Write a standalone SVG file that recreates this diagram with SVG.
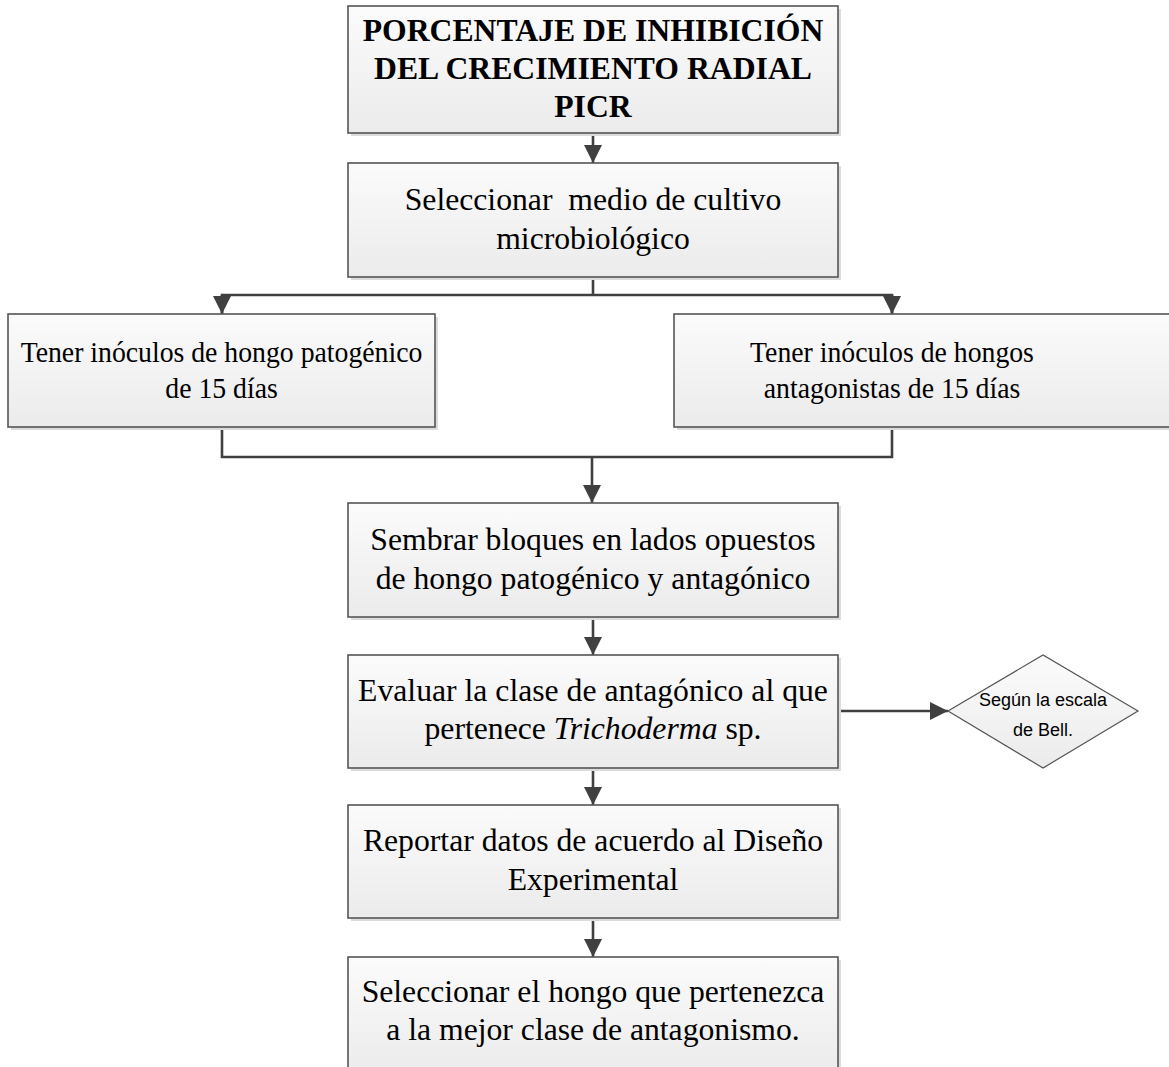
<svg xmlns="http://www.w3.org/2000/svg" width="1169" height="1067" viewBox="0 0 1169 1067">
<defs>
<linearGradient id="boxFill" x1="0" y1="0" x2="0" y2="1">
<stop offset="0" stop-color="#fbfbfb"/>
<stop offset="1" stop-color="#ebebeb"/>
</linearGradient>
<marker id="arr" markerUnits="userSpaceOnUse" markerWidth="18" markerHeight="18" refX="18" refY="9" orient="auto">
<path d="M0,0 L18,9 L0,18 z" fill="#404040"/>
</marker>
<style>
.shadow{fill:#dcdcdc;}
.box{fill:url(#boxFill);stroke:#555;stroke-width:1.6;}
.t{font-family:"Liberation Serif","Times New Roman",serif;font-size:31.7px;fill:#000;text-anchor:middle;}
.ts2{font-family:"Liberation Serif","Times New Roman",serif;font-size:30.5px;fill:#000;text-anchor:middle;}
.tb{font-family:"Liberation Serif","Times New Roman",serif;font-size:31.7px;font-weight:bold;fill:#000;text-anchor:middle;}
.ts{font-family:"Liberation Sans",Arial,sans-serif;font-size:18px;fill:#000;text-anchor:middle;}
.c{fill:none;stroke:#404040;stroke-width:2.6;}
</style>
</defs>
<rect width="1169" height="1067" fill="#fff"/>

<g id="connectors">
<line class="c" x1="593" y1="133" x2="593" y2="163" marker-end="url(#arr)"/>
<polyline class="c" points="593,277 593,295"/>
<polyline class="c" points="222,314 222,295 892,295 892,314"/>
<line class="c" x1="222" y1="295" x2="222" y2="314" marker-end="url(#arr)"/>
<line class="c" x1="892" y1="295" x2="892" y2="314" marker-end="url(#arr)"/>
<polyline class="c" points="222,427 222,457 892,457 892,427"/>
<line class="c" x1="592" y1="457" x2="592" y2="503" marker-end="url(#arr)"/>
<line class="c" x1="593" y1="617" x2="593" y2="655" marker-end="url(#arr)"/>
<line class="c" x1="838" y1="711" x2="948" y2="711" marker-end="url(#arr)"/>
<line class="c" x1="593" y1="768" x2="593" y2="805" marker-end="url(#arr)"/>
<line class="c" x1="593" y1="918" x2="593" y2="957" marker-end="url(#arr)"/>
</g>

<g id="n1">
<rect class="shadow" x="351" y="9" width="490" height="127"/>
<rect class="box" x="348" y="6" width="490" height="127"/>
<text class="tb" x="593" y="41">PORCENTAJE DE INHIBICIÓN</text>
<text class="tb" x="593" y="79">DEL CRECIMIENTO RADIAL</text>
<text class="tb" x="593" y="117">PICR</text>
</g>

<g id="n2">
<rect class="shadow" x="351" y="166" width="490" height="114"/>
<rect class="box" x="348" y="163" width="490" height="114"/>
<text class="t" x="593" y="210" xml:space="preserve">Seleccionar  medio de cultivo</text>
<text class="t" x="593" y="248.5">microbiológico</text>
</g>

<g id="n3">
<rect class="shadow" x="11" y="317" width="427" height="113"/>
<rect class="box" x="8" y="314" width="427" height="113"/>
<text class="ts2" transform="translate(221.5,362) scale(0.91,1)">Tener inóculos de hongo patogénico</text>
<text class="ts2" transform="translate(221.5,398) scale(0.91,1)">de 15 días</text>
</g>

<g id="n4">
<rect class="shadow" x="677" y="317" width="500" height="113"/>
<rect class="box" x="674" y="314" width="500" height="113"/>
<text class="ts2" transform="translate(892,362) scale(0.91,1)">Tener inóculos de hongos</text>
<text class="ts2" transform="translate(892,398) scale(0.91,1)">antagonistas de 15 días</text>
</g>

<g id="n5">
<rect class="shadow" x="351" y="506" width="490" height="114"/>
<rect class="box" x="348" y="503" width="490" height="114"/>
<text class="t" x="593" y="550">Sembrar bloques en lados opuestos</text>
<text class="t" x="593" y="589">de hongo patogénico y antagónico</text>
</g>

<g id="n6">
<rect class="shadow" x="351" y="658" width="490" height="113"/>
<rect class="box" x="348" y="655" width="490" height="113"/>
<text class="t" x="593" y="701">Evaluar la clase de antagónico al que</text>
<text class="t" x="593" y="739">pertenece <tspan font-style="italic">Trichoderma</tspan> sp.</text>
</g>

<g id="n7">
<rect class="shadow" x="351" y="808" width="490" height="113"/>
<rect class="box" x="348" y="805" width="490" height="113"/>
<text class="t" x="593" y="851">Reportar datos de acuerdo al Diseño</text>
<text class="t" x="593" y="890">Experimental</text>
</g>

<g id="n8">
<rect class="shadow" x="351" y="960" width="490" height="120"/>
<rect class="box" x="348" y="957" width="490" height="120"/>
<text class="t" x="593" y="1002">Seleccionar el hongo que pertenezca</text>
<text class="t" x="593" y="1040">a la mejor clase de antagonismo.</text>
</g>

<g id="n9">
<polygon points="948,711 1043,655 1138,711 1043,768" fill="url(#boxFill)" stroke="#555" stroke-width="1.2"/>
<text class="ts" x="1043" y="706">Según la escala</text>
<text class="ts" x="1043" y="736">de Bell.</text>
</g>
</svg>
